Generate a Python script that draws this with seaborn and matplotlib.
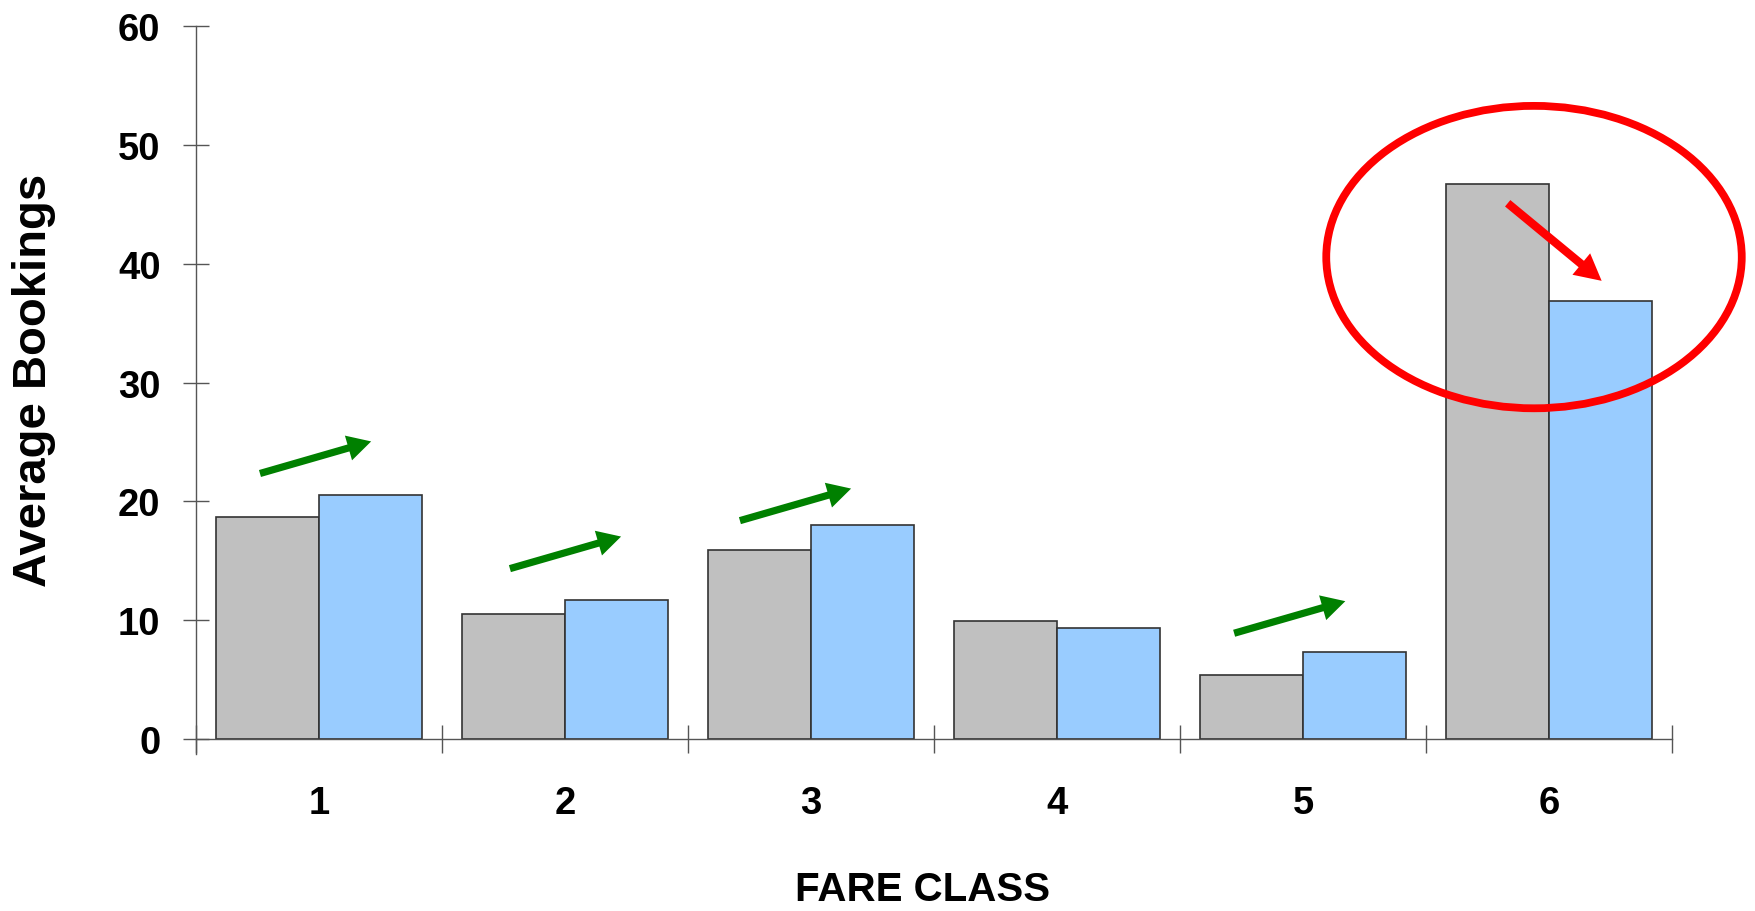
import matplotlib
matplotlib.use("Agg")
import matplotlib.pyplot as plt
from matplotlib.patches import Ellipse
from matplotlib.ticker import FixedLocator
import numpy as np
import pandas as pd
import seaborn as sns

# Average bookings per fare class, before and after the change
fare_classes = ["1", "2", "3", "4", "5", "6"]
bookings_before = [18.7, 10.5, 15.9, 9.9, 5.4, 46.7]
bookings_after = [20.5, 11.7, 18.05, 9.35, 7.3, 36.9]
period_names = ["before", "after"]
y_ticks = [0, 10, 20, 30, 40, 50, 60]

# Annotation placement: green "up" arrows on classes that grew
up_groups = [0, 1, 2, 4]
up_tail_dx = [-0.24, -0.224, -0.289, -0.28]
up_tail_y = [22.35, 14.34, 18.38, 8.9]
up_vec = (0.452, 2.7)
# red "down" arrow on the class that shrank
down_group = 5
down_tail = (-0.168, 45.1)
down_tip = (0.214, 38.57)

df = pd.DataFrame({
    "fare_class": fare_classes * 2,
    "bookings": bookings_before + bookings_after,
    "period": [period_names[0]] * len(fare_classes) + [period_names[1]] * len(fare_classes),
})

sns.set_style("white")
plt.rcParams["font.family"] = ["Liberation Sans", "DejaVu Sans"]
plt.rcParams["font.weight"] = "bold"
plt.rcParams["text.color"] = "black"
plt.rcParams["axes.labelcolor"] = "black"

fig = plt.figure(figsize=(17.56, 9.12), dpi=100)
ax = fig.add_axes([0.11162, 0.17171, 0.84055, 0.79836])

sns.barplot(
    data=df, x="fare_class", y="bookings", hue="period",
    order=fare_classes, hue_order=period_names,
    palette=["#C0C0C0", "#99CCFF"], saturation=1, width=0.837,
    edgecolor="#333333", linewidth=1.2, legend=False, ax=ax,
)

ax.set_xlim(-0.5, len(fare_classes) - 0.5)
ax.set_ylim(-1.3, 60)

axis_color = "#555555"
for side in ["top", "right"]:
    ax.spines[side].set_visible(False)
ax.spines["bottom"].set_position(("data", 0))
for side in ["left", "bottom"]:
    ax.spines[side].set_color(axis_color)
    ax.spines[side].set_linewidth(1.0)

ax.set_yticks(y_ticks)
ax.tick_params(axis="y", direction="inout", length=19, width=1.0, color=axis_color,
               labelcolor="black", labelsize=27.5, pad=16, left=True)
ax.set_xticks(range(len(fare_classes)))
ax.set_xticklabels(fare_classes)
ax.xaxis.set_minor_locator(FixedLocator(np.arange(-0.5, len(fare_classes), 1.0)))
ax.tick_params(axis="x", which="major", length=0, labelsize=27.5, labelcolor="black", pad=33)
ax.tick_params(axis="x", which="minor", direction="inout", length=20, width=1.0,
               color=axis_color, bottom=True)
for lbl in ax.get_xticklabels() + ax.get_yticklabels():
    lbl.set_fontweight("bold")

ax.set_ylabel("Average Bookings", fontsize=34, fontweight="bold")
ax.yaxis.set_label_coords(-0.095, 0.515)
ax.set_xlabel("FARE CLASS", fontsize=29, fontweight="bold")
ax.xaxis.set_label_coords(0.4925, -0.159)

# Green arrows marking increases
for g, dx, ty in zip(up_groups, up_tail_dx, up_tail_y):
    x0 = g + dx
    ax.annotate("", xy=(x0 + up_vec[0], ty + up_vec[1]), xytext=(x0, ty),
                arrowprops=dict(facecolor="#008000", edgecolor="none", width=5.2,
                                headwidth=18.5, headlength=17, shrink=0),
                annotation_clip=False)

# Red arrow and ring highlighting the drop
ax.annotate("", xy=(down_group + down_tip[0], down_tip[1]),
            xytext=(down_group + down_tail[0], down_tail[1]),
            arrowprops=dict(facecolor="#FF0000", edgecolor="none", width=6,
                            headwidth=20, headlength=19, shrink=0),
            annotation_clip=False)
ax.add_patch(Ellipse((4.939, 40.57), 1.689, 25.46, fill=False,
                     edgecolor="#FF0000", linewidth=5.6, clip_on=False, zorder=5))

fig.savefig("out.png", dpi=100)
